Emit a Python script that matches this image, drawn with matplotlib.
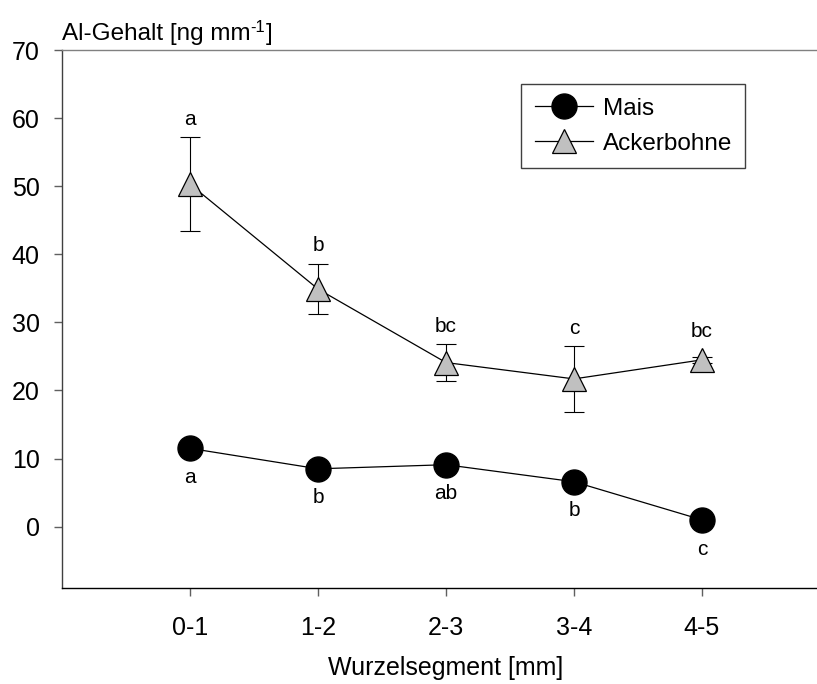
import matplotlib
matplotlib.use("Agg")
import matplotlib.pyplot as plt
import numpy as np

plt.rcParams['font.family'] = ['Liberation Sans', 'DejaVu Sans']

# Al content per root segment
segments = ["0-1", "1-2", "2-3", "3-4", "4-5"]
mais = [11.5, 8.5, 9.1, 6.6, 1.0]
mais_letters = ["a", "b", "ab", "b", "c"]
bohne = [50.3, 34.9, 24.1, 21.7, 24.5]
bohne_err = [6.9, 3.7, 2.7, 4.8, 0.4]
bohne_letters = ["a", "b", "bc", "c", "bc"]

x = np.arange(1, len(segments) + 1)

fig = plt.figure(figsize=(8.17, 6.84), dpi=100)
# axes run past the right edge of the figure, so no right spine is visible
ax = fig.add_axes([0.0759, 0.1404, 0.94, 0.7865])

ax.errorbar(x, bohne, yerr=bohne_err, fmt='none', ecolor='black',
            elinewidth=0.8, capsize=7, capthick=0.8, zorder=1)
ax.plot(x, mais, '-o', color='black', markersize=18, linewidth=0.9,
        markerfacecolor='black', markeredgecolor='black', label='Mais', zorder=3)
ax.plot(x, bohne, '-^', color='black', markersize=17, linewidth=0.9,
        markerfacecolor='#c0c0c0', markeredgecolor='black', markeredgewidth=0.9,
        label='Ackerbohne', zorder=3)

# significance letters
for xi, v, e, t in zip(x, bohne, bohne_err, bohne_letters):
    top = max(v + e, v + 1.5)
    ax.annotate(t, (xi, top), xytext=(0, 13), textcoords='offset points',
                ha='center', va='center', fontsize=15)
for xi, v, t in zip(x, mais, mais_letters):
    ax.annotate(t, (xi, v), xytext=(0, -21), textcoords='offset points',
                ha='center', va='center', fontsize=15)

ax.set_xlim(0, 6)
ax.set_ylim(-9, 70)
ax.set_xticks(x)
ax.set_xticklabels(segments)
ax.set_yticks(np.arange(0, 71, 10))

ax.spines['right'].set_visible(False)
ax.spines['top'].set_color('#808080')
ax.spines['left'].set_color('#404040')
ax.spines['bottom'].set_color('black')
for s in ax.spines.values():
    s.set_linewidth(1.0)

ax.tick_params(axis='y', direction='out', length=6, width=1, color='#606060',
               labelsize=18, pad=10)
ax.tick_params(axis='x', direction='out', length=6, width=1, color='#606060',
               labelsize=18, pad=14)

fig.text(446 / 817, 1 - 668 / 684, "Wurzelsegment [mm]", fontsize=18,
         ha='center', va='center')

# y-axis title with a raised "-1"
ylab_y = 1 - 40 / 684
t1 = fig.text(0.0759, ylab_y, "Al-Gehalt [ng mm", fontsize=17.5,
              ha='left', va='baseline')
fig.canvas.draw()
bb = t1.get_window_extent()
x1 = bb.x1 / fig.bbox.width
t2 = fig.text(x1, ylab_y + 8 / 684, "-1", fontsize=12, ha='left', va='baseline')
bb2 = t2.get_window_extent(renderer=fig.canvas.get_renderer())
fig.text(bb2.x1 / fig.bbox.width, ylab_y, "]", fontsize=17.5,
         ha='left', va='baseline')

leg = ax.legend(loc='upper left', bbox_to_anchor=(0.638, 0.877),
                bbox_transform=fig.transFigure, borderaxespad=0,
                fontsize=17.5, handlelength=2.4, fancybox=False,
                edgecolor='#404040', framealpha=1, borderpad=0.55,
                labelspacing=0.55, handletextpad=0.4)
leg.get_frame().set_linewidth(1.0)

fig.savefig("out.png", dpi=100)
